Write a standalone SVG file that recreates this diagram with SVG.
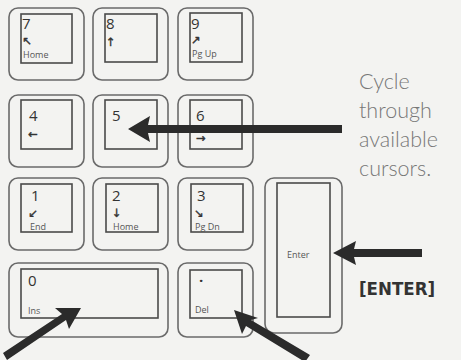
<svg xmlns="http://www.w3.org/2000/svg" width="461" height="360" viewBox="0 0 461 360">
<style>
.outer{fill:none;stroke:#6a6a6a;stroke-width:1.6}
.inner{fill:none;stroke:#4a4a4a;stroke-width:1.6}
.num{font-family:"Open Sans","DejaVu Sans",sans-serif;font-size:15px;fill:#333}
.lbl{font-family:"Open Sans","DejaVu Sans",sans-serif;font-size:9px;fill:#555}
.sym{font-family:"DejaVu Sans",sans-serif;font-size:11.5px;fill:#333;stroke:#333;stroke-width:0.4}
.cap{font-family:"Lato","DejaVu Sans",sans-serif;font-weight:300;font-size:21.5px;fill:#777}
.ent{font-family:"DejaVu Sans Condensed","DejaVu Sans",sans-serif;font-weight:bold;font-size:18.5px;fill:#333}
.arr{fill:#2b2b2b}
</style>
<rect width="461" height="360" fill="#f3f3f1"/>
<g id="key7"><rect class="outer" x="9" y="8" width="75" height="72" rx="9"/><rect class="inner" x="21" y="14" width="51" height="49"/><text class="num" x="22" y="29">7</text><text class="sym" x="22" y="44.5">↖︎</text><text class="lbl" x="23" y="58">Home</text></g>
<g id="key8"><rect class="outer" x="93" y="8" width="75" height="72" rx="9"/><rect class="inner" x="105" y="14" width="52" height="48"/><text class="num" x="106" y="29">8</text><text class="sym" x="106" y="46">↑︎</text></g>
<g id="key9"><rect class="outer" x="178" y="8" width="75" height="72" rx="9"/><rect class="inner" x="190" y="13" width="52" height="49"/><text class="num" x="191" y="28.5">9</text><text class="sym" x="191" y="44">↗︎</text><text class="lbl" x="192" y="57">Pg Up</text></g>
<g id="key4"><rect class="outer" x="9" y="95" width="75" height="72" rx="9"/><rect class="inner" x="21" y="100" width="51" height="49"/><text class="num" x="29" y="121">4</text><text class="sym" x="28" y="138">←︎</text></g>
<g id="key5"><rect class="outer" x="93" y="95" width="75" height="72" rx="9"/><rect class="inner" x="105" y="100" width="52" height="49"/><text class="num" x="112" y="121">5</text></g>
<g id="key6"><rect class="outer" x="178" y="95" width="75" height="72" rx="9"/><rect class="inner" x="190" y="100" width="52" height="49"/><text class="num" x="196" y="121">6</text><text class="sym" x="196" y="142">→︎</text></g>
<g id="key1"><rect class="outer" x="9" y="178" width="75" height="72" rx="9"/><rect class="inner" x="21" y="184" width="51" height="48"/><text class="num" x="31" y="201">1</text><text class="sym" x="28" y="216.5">↙︎</text><text class="lbl" x="30" y="230">End</text></g>
<g id="key2"><rect class="outer" x="93" y="178" width="75" height="72" rx="9"/><rect class="inner" x="106" y="184" width="52" height="48"/><text class="num" x="112" y="201">2</text><text class="sym" x="112" y="216.5">↓︎</text><text class="lbl" x="113" y="230">Home</text></g>
<g id="key3"><rect class="outer" x="178" y="178" width="75" height="72" rx="9"/><rect class="inner" x="191" y="184" width="52" height="48"/><text class="num" x="197" y="201">3</text><text class="sym" x="194" y="216.5">↘︎</text><text class="lbl" x="195" y="230">Pg Dn</text></g>
<g id="key0"><rect class="outer" x="9" y="263" width="159" height="74" rx="9"/><rect class="inner" x="21" y="269" width="137" height="49"/><text class="num" x="28" y="286">0</text><text class="lbl" x="28" y="314">Ins</text></g>
<g id="keyDel"><rect class="outer" x="178" y="263" width="75" height="74" rx="9"/><rect class="inner" x="190" y="270" width="52" height="48"/><text class="num" x="199" y="286" font-weight="bold">·</text><text class="lbl" x="195" y="313">Del</text></g>
<g id="keyEnter"><rect class="outer" x="265" y="178" width="77" height="155" rx="9"/><rect class="inner" x="277" y="183" width="53" height="134"/><text class="lbl" x="287" y="258">Enter</text></g>
<g id="caption"><text class="cap" x="359" y="89">Cycle</text><text class="cap" x="359" y="118">through</text><text class="cap" x="359" y="147">available</text><text class="cap" x="359" y="176">cursors.</text><text class="ent" x="359" y="295">[ENTER]</text></g>
<g id="connectors">
<polygon class="arr" points="128,129 150,116 148,125 342,125 342,133 148,133 150,142"/>
<polygon class="arr" points="333,253 356,241 354,249 422,249 422,257 354,257 356,265"/>
<polygon class="arr" points="81,308 55,308 62,314 3,353 7,360 66,320 69,329"/>
<polygon class="arr" points="234,310 242,334 246,326 305,362 310,355 251,320 258,318"/>
</g>
</svg>
